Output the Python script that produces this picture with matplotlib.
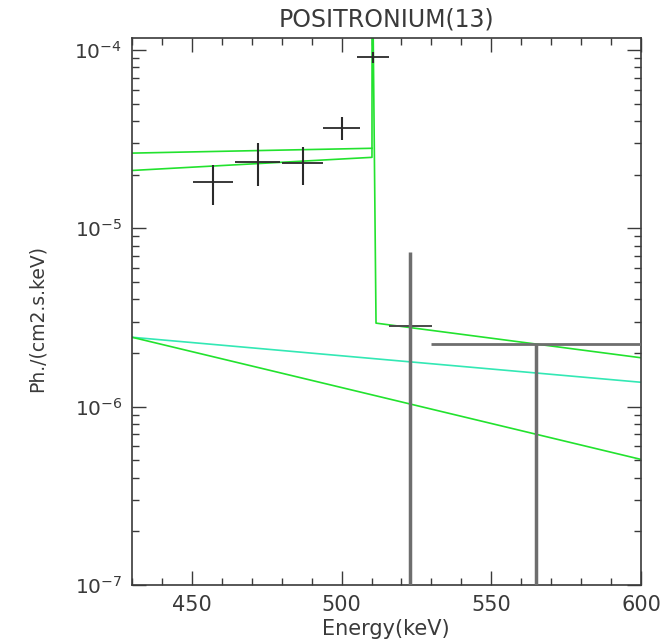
import matplotlib
matplotlib.use("Agg")
import matplotlib.pyplot as plt
import numpy as np
from matplotlib.ticker import FixedLocator, MultipleLocator, LogLocator, NullFormatter, FuncFormatter

# Measured spectrum points (keV, ph/cm2/s/keV)
energy = [457.0, 472.0, 487.0, 500.0, 510.6, 523.0, 565.0]
energy_halfwidth = [6.7, 7.5, 6.8, 6.2, 5.4, 7.1, 35.0]
flux = [1.82e-5, 2.34e-5, 2.31e-5, 3.64e-5, 9.1e-5, 2.84e-6, 2.25e-6]
flux_upper = [2.26e-5, 3.0e-5, 2.84e-5, 4.2e-5, 9.8e-5, 7.4e-6, 2.25e-6]
flux_lower = [1.35e-5, 1.73e-5, 1.75e-5, 3.13e-5, 8.42e-5, 1e-9, 1e-9]

# Model curves
total_e = [430.0, 510.15, 510.2, 511.5, 600.0]
total_f = [2.11e-5, 2.50e-5, 5.0e-4, 2.94e-6, 1.88e-6]
ops_e = [430.0, 510.15]
ops_f = [2.64e-5, 2.81e-5]
plaw_e = [430.0, 600.0]
plaw_f = [2.45e-6, 1.37e-6]
steep_e = [430.0, 600.0]
steep_f = [2.45e-6, 5.06e-7]

title = "POSITRONIUM(13)"
xlabel = "Energy(keV)"
ylabel = "Ph./(cm2.s.keV)"
xticks = [450, 500, 550, 600]

plt.rcParams['font.family'] = ['DejaVu Sans']
ink = '#3a3a3a'
green = '#22e22e'
cyan = '#33e8b4'

fig = plt.figure(figsize=(6.69, 6.41), dpi=100)
ax = fig.add_axes([132/669, 1-585/641, (641-132)/669, (585-38)/641])
ax.set_yscale('log')
ax.set_xlim(430, 600)
ax.set_ylim(1e-7, 1.167e-4)

lw = 1.2
ax.plot(plaw_e, plaw_f, color=cyan, lw=lw, zorder=2)
ax.plot(steep_e, steep_f, color=green, lw=lw, zorder=2)
ax.plot(ops_e, ops_f, color=green, lw=lw, zorder=2)
ax.plot(total_e, total_f, color=green, lw=lw, zorder=2)

e = np.array(energy)
f = np.array(flux)
lo = np.array(flux_lower)
hi = np.array(flux_upper)
hw = np.array(energy_halfwidth)

# narrow-bin points: thin dark crosses
ax.hlines(f[:5], e[:5] - hw[:5], e[:5] + hw[:5], color='#2a2a2a', lw=1.3, zorder=4)
ax.vlines(e[:5], lo[:5], hi[:5], color='#2a2a2a', lw=1.5, zorder=4)
# upper-energy points: grey bars
ax.hlines(f[5], e[5] - hw[5], e[5] + hw[5], color='#4a4a4a', lw=1.4, zorder=4)
ax.hlines(f[6], e[6] - hw[6], e[6] + hw[6], color='#6e6e6e', lw=2.0, zorder=4)
ax.vlines(e[5:], lo[5:], hi[5:], color='#6e6e6e', lw=2.5, zorder=4)

ax.xaxis.set_major_locator(FixedLocator(xticks))
ax.xaxis.set_minor_locator(MultipleLocator(10))
ax.yaxis.set_major_locator(LogLocator(base=10, numticks=10))
ax.yaxis.set_minor_locator(LogLocator(base=10, subs=np.arange(2, 10), numticks=20))
ax.yaxis.set_minor_formatter(NullFormatter())
ax.yaxis.set_major_formatter(FuncFormatter(lambda v, p: "10$^{%d}$" % int(round(np.log10(v)))))

ax.tick_params(axis='both', which='both', direction='in', top=True, right=True,
               colors=ink, width=1.0)
ax.tick_params(axis='both', which='major', length=10)
ax.tick_params(axis='both', which='minor', length=5)
ax.tick_params(axis='x', which='major', labelsize=15, pad=7)
ax.tick_params(axis='y', which='major', labelsize=14.5, pad=7)
for s in ax.spines.values():
    s.set_color(ink)
    s.set_linewidth(1.2)

fig.text(386/669, 1-20/641, title, ha='center', va='center', fontsize=17, color=ink)
fig.text(386/669, 1-629/641, xlabel, ha='center', va='center', fontsize=15, color=ink)
fig.text(37/669, 1-318/641, ylabel, ha='center', va='center', rotation=90, fontsize=13.5, color=ink)

fig.savefig("out.png", dpi=100)
